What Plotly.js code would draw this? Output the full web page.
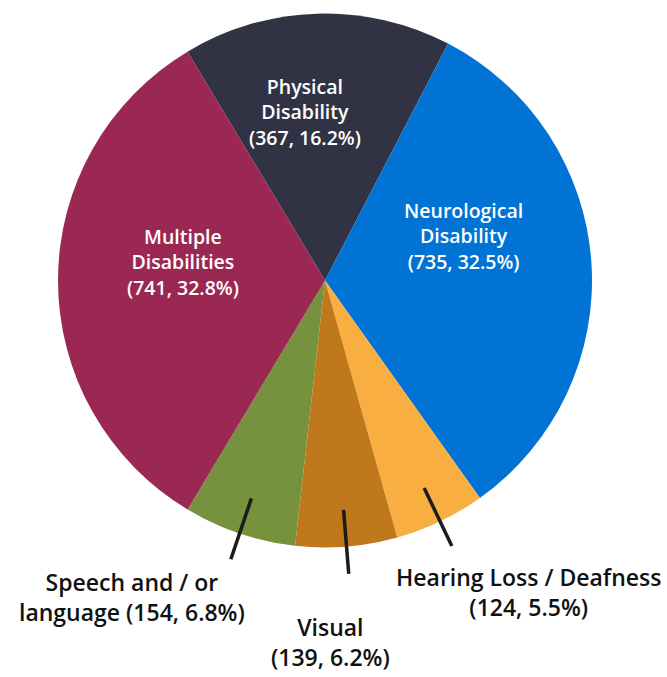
<!DOCTYPE html>
<html><head><meta charset="utf-8">
<script src="https://cdn.plot.ly/plotly-3.0.1.min.js"></script>
<style>html,body{margin:0;padding:0;background:#fff}#chart{width:667px;height:677px}</style>
</head><body><div id="chart"></div>
<script>
// ---- data ----
const categories = ['Physical Disability', 'Neurological Disability', 'Hearing Loss / Deafness', 'Visual', 'Speech and / or language', 'Multiple Disabilities'];
const displayLabels = ['Physical<br>Disability', 'Neurological<br>Disability', 'Hearing Loss / Deafness', 'Visual', 'Speech and / or<br>language', 'Multiple<br>Disabilities'];
const values = [367, 735, 124, 139, 154, 741];
const colors = ['#313344', '#0073d5', '#f9ae41', '#c0781d', '#77923d', '#9b2853'];
const insideSlices = [true, true, false, false, false, true];
const labelJoin = ['<br>', '<br>', '<br>', '<br>', ' ', '<br>'];

// ---- derived ----
const total = values.reduce((a, b) => a + b, 0);
const pct = values.map(v => (100 * v / total).toFixed(1) + '%');
const fullText = displayLabels.map((l, i) => l + labelJoin[i] + '(' + values[i] + ', ' + pct[i] + ')');

const rotation = -31;
let cum = 0;
const mids = values.map(v => { const a = rotation + (cum + v / 2) / total * 360; cum += v; return a; });
function pt(a, f) { const r = a * Math.PI / 180; return { x: 0.5 + 0.5 * f * Math.sin(r), y: 0.5 + 0.5 * f * Math.cos(r) }; }

// label placement (radius fraction + pixel offsets)
const labelPlace = {
  0: { f: 0.60, dx: -15, dy: 8 },
  1: { f: 0.60, dx: -21, dy: 33 },
  2: { f: 1.12, dx: 74, dy: -41 },
  3: { f: 1.12, dx: -19, dy: -63 },
  4: { f: 1.12, dx: -97, dy: -33 },
  5: { f: 0.60, dx: 18, dy: 19 }
};
const FONT = '"Open Sans", sans-serif';

const shapes = [];
const annotations = [];
values.forEach((v, i) => {
  const lp = labelPlace[i];
  const a = pt(mids[i], lp.f);
  if (!insideSlices[i]) {
    const p0 = pt(mids[i], 0.86), p1 = pt(mids[i], 1.10);
    shapes.push({ type: 'line', xref: 'paper', yref: 'paper', x0: p0.x, y0: p0.y, x1: p1.x, y1: p1.y,
      line: { color: '#1c1c1c', width: 3.5 } });
  }
  annotations.push({ xref: 'paper', yref: 'paper', x: a.x, y: a.y, xshift: lp.dx, yshift: lp.dy,
    xanchor: 'center', yanchor: 'middle', showarrow: false, align: 'center', borderpad: 0, text: fullText[i],
    font: insideSlices[i]
      ? { family: FONT, size: 19.5, color: '#ffffff', weight: 600 }
      : { family: FONT, size: 23, color: '#111111', weight: 600 } });
});

const trace = {
  type: 'pie',
  labels: categories,
  values: values,
  sort: false,
  direction: 'clockwise',
  rotation: rotation,
  marker: { colors: colors, line: { width: 0 } },
  textinfo: 'none',
  hoverinfo: 'label+value+percent',
  showlegend: false
};

const layout = {
  width: 667, height: 677,
  margin: { l: 57.5, r: 74.5, t: 13, b: 129 },
  paper_bgcolor: '#ffffff',
  showlegend: false,
  shapes: shapes,
  annotations: annotations
};

Plotly.newPlot('chart', [trace], layout, { displayModeBar: false, staticPlot: true });
</script>
</body></html>
